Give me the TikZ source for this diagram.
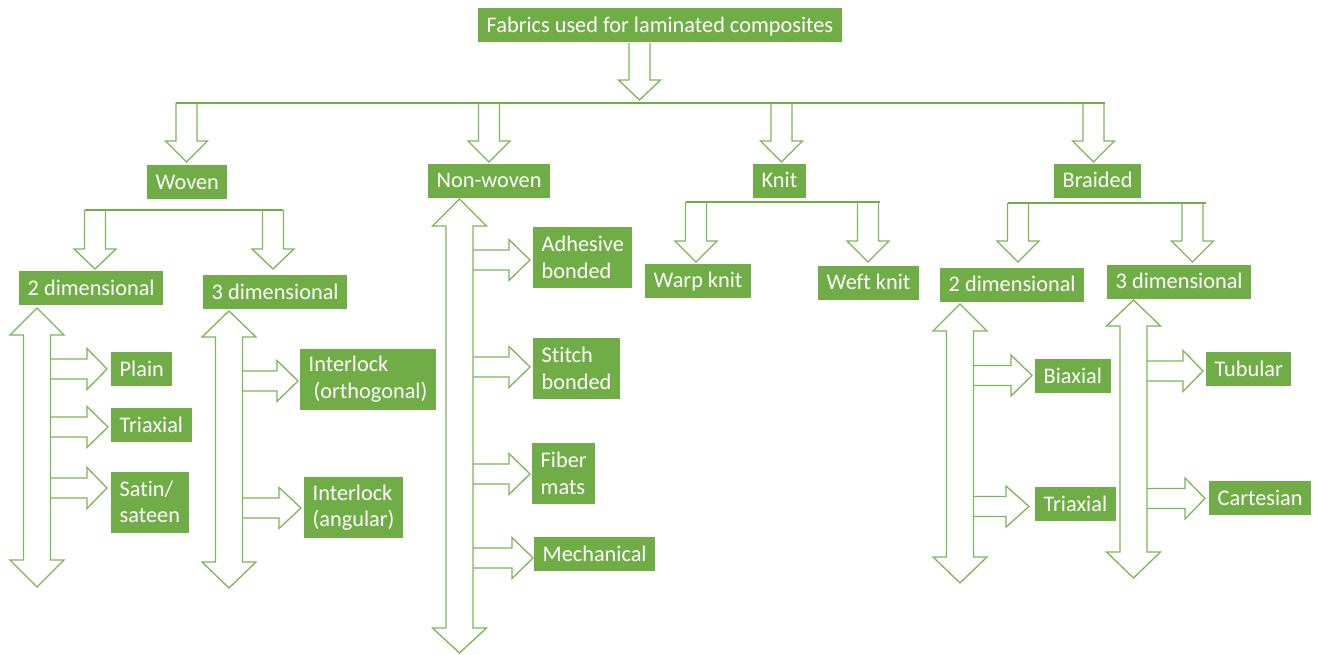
\documentclass[tikz,border=0pt]{standalone}
\usepackage{fontspec}
\setmainfont{Carlito}[Ligatures={NoCommon}]
\definecolor{leaf}{HTML}{70AD47}

% block arrows: x, top, head base, tip
\newcommand{\downblk}[4]{%
  \draw[blk] ({#1-10.5},#2) -- ({#1-10.5},#3) -- ({#1-21},#3) -- (#1,#4) -- ({#1+21},#3) -- ({#1+10.5},#3) -- ({#1+10.5},#2);}
% y, start, head base, tip
\newcommand{\rightblk}[4]{%
  \draw[blk] (#2,{#1-10}) -- (#3,{#1-10}) -- (#3,{#1-20.5}) -- (#4,#1) -- (#3,{#1+20.5}) -- (#3,{#1+10}) -- (#2,{#1+10});}
% x, top tip, top base, bottom base, bottom tip
\newcommand{\updownblk}[5]{%
  \draw[blk] (#1,#2) -- ({#1+27},#3) -- ({#1+13.5},#3) -- ({#1+13.5},#4) -- ({#1+27},#4) -- (#1,#5) -- ({#1-27},#4) -- ({#1-13.5},#4) -- ({#1-13.5},#3) -- ({#1-27},#3) -- cycle;}

\begin{document}
\begin{tikzpicture}[x=1pt, y=-1pt,
    box/.style={fill=leaf, text=white, font=\fontsize{22.3}{26.5}\selectfont, inner xsep=8.5pt, inner ysep=7pt,
      text height=17pt, text depth=3pt, align=left, anchor=west},
    twoline/.style={box, text height=, text depth=, inner ysep=0pt, minimum height=61pt},
    blk/.style={draw=leaf!90, line width=1.3pt, line join=miter},
    bar/.style={draw=leaf, line width=2.5pt}]
    \useasboundingbox (0,0) rectangle (1317,655);

    % top level
    \node[box] (fabrics) at (478,25.5) {Fabrics used for laminated composites};
    \downblk{639.5}{43}{80}{100}
    \draw[bar] (176,103) -- (1105,103);
    \downblk{186.5}{103}{141}{162}
    \downblk{489}{103}{141}{162}
    \downblk{781.5}{103}{141}{162}
    \downblk{1093.5}{103}{141}{162}

    \node[box] (woven) at (147,182.5) {Woven};
    \node[box] (nonwoven) at (428,181) {Non-woven};
    \node[box] (knit) at (753,181) {Knit};
    \node[box] (braided) at (1054,181) {Braided};

    % woven
    \draw[bar] (85,210) -- (283,210);
    \downblk{95}{210}{249}{269}
    \downblk{273}{210}{249}{269}
    \node[box] (wtwo) at (19,288) {2 dimensional};
    \node[box] (wthree) at (203,292) {3 dimensional};
    \updownblk{37}{308}{335}{560}{587}
    \updownblk{229}{311}{337}{562}{588}
    \rightblk{369}{50.5}{87}{107}
    \rightblk{427}{50.5}{87}{108}
    \rightblk{488}{50.5}{87}{107}
    \node[box] (plain) at (111,369) {Plain};
    \node[box] (wtriax) at (111,425) {Triaxial};
    \node[twoline] (satin) at (111,502) {Satin/\\sateen};
    \rightblk{381}{242.5}{277}{298}
    \rightblk{508}{242.5}{279}{301}
    \node[twoline] (orth) at (300,379) {Interlock\\\hspace{5pt}(orthogonal)};
    \node[twoline] (ang) at (304,507.5) {Interlock\\(angular)};

    % non-woven
    \updownblk{459.5}{199}{226}{628}{653}
    \rightblk{260}{473}{509}{530}
    \rightblk{367}{473}{509}{530}
    \rightblk{474}{473}{509}{530}
    \rightblk{558}{473}{512}{533}
    \node[twoline] (adhesive) at (533,257.5) {Adhesive\\bonded};
    \node[twoline] (stitch) at (533,368.5) {Stitch\\bonded};
    \node[twoline] (fiber) at (532,473.5) {Fiber\\mats};
    \node[box] (mech) at (534,554) {Mechanical};

    % knit
    \draw[bar] (686,202) -- (880,202);
    \downblk{696}{202}{241}{262}
    \downblk{868}{202}{241}{262}
    \node[box] (warp) at (645,280.5) {Warp knit};
    \node[box] (weft) at (818,282.5) {Weft knit};

    % braided
    \draw[bar] (1008,203) -- (1206,203);
    \downblk{1018}{203}{241}{262}
    \downblk{1192.5}{203}{241}{262}
    \node[box] (btwo) at (940,284.5) {2 dimensional};
    \node[box] (bthree) at (1107,281.5) {3 dimensional};
    \updownblk{960}{304}{331}{557}{583}
    \updownblk{1133.5}{300}{326}{552}{578}
    \rightblk{375.5}{973.5}{1011}{1032}
    \rightblk{506.5}{973.5}{1006}{1029}
    \rightblk{371}{1147}{1183}{1203}
    \rightblk{498.5}{1147}{1185}{1205}
    \node[box] (biax) at (1035,376) {Biaxial};
    \node[box] (btriax) at (1035,504) {Triaxial};
    \node[box] (tubular) at (1206,369) {Tubular};
    \node[box] (cart) at (1209,498) {Cartesian};
\end{tikzpicture}
\end{document}
